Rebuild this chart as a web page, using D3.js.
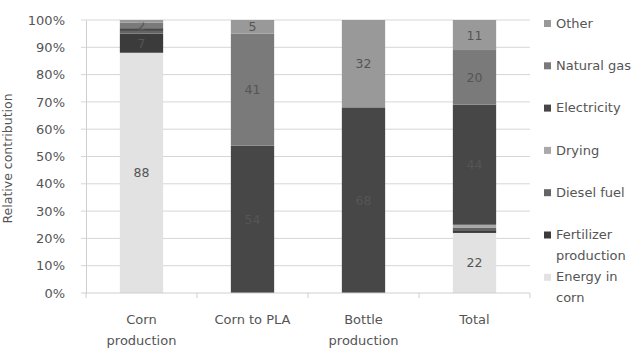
<!DOCTYPE html>
<html>
<head>
<meta charset="utf-8">
<script src="https://cdn.jsdelivr.net/npm/d3@7"></script>
<style>
  html, body { margin: 0; padding: 0; background: #fff; }
  svg { display: block; }
  text { font-family: "DejaVu Sans", sans-serif; fill: #555; }
</style>
</head>
<body>
<svg id="chart" width="643" height="352"></svg>
<script>
// Stages of the life cycle (x categories); "\n" splits a label over two lines
const categories = ["Corn\nproduction", "Corn to PLA", "Bottle\nproduction", "Total"];

// Energy sources, stacked bottom to top
const sources = ["Energy in corn", "Fertilizer production", "Diesel fuel", "Drying", "Electricity", "Natural gas", "Other"];

// Relative contribution (%) of each source per stage
const energyInCorn = [88, 0, 0, 22];
const fertilizer   = [7, 0, 0, 1];
const dieselFuel   = [1, 0, 0, 1];
const drying       = [0, 0, 0, 1];
const electricity  = [1, 54, 68, 44];
const naturalGas   = [2, 41, 0, 20];
const other        = [1, 5, 32, 11];

const yTicks = [0, 10, 20, 30, 40, 50, 60, 70, 80, 90, 100];

const colors = ["#e2e2e2", "#3b3b3b", "#646464", "#a9a9a9", "#474747", "#7a7a7a", "#999999"];
const seriesValues = [energyInCorn, fertilizer, dieselFuel, drying, electricity, naturalGas, other];

const rows = categories.map((c, i) => {
  const r = { category: c };
  sources.forEach((s, k) => { r[s] = seriesValues[k][i]; });
  return r;
});

const svg = d3.select("#chart");
const m = { left: 86, right: 530, top: 20, bottom: 293 };

const x = d3.scaleBand().domain(categories).range([m.left, m.right]).paddingInner(0.61).paddingOuter(0.305);
const y = d3.scaleLinear().domain([0, 100]).range([m.bottom, m.top]);

// gridlines
svg.append("g")
  .selectAll("line").data(yTicks.filter(d => d > 0)).join("line")
  .attr("x1", m.left - 5).attr("x2", m.right)
  .attr("y1", d => y(d)).attr("y2", d => y(d))
  .attr("stroke", "#d6d6d6").attr("stroke-width", 1);

// y axis
const yAxis = svg.append("g").attr("transform", `translate(${m.left},0)`)
  .call(d3.axisLeft(y).tickValues(yTicks).tickFormat(d => d + "%").tickSize(0).tickPadding(21));
yAxis.select(".domain").attr("stroke", "#cfcfcf");
yAxis.selectAll("text").style("font-size", "13px").attr("fill", "#555");

// y axis title
svg.append("text")
  .attr("transform", `translate(12,${(m.top + m.bottom) / 2 + 2}) rotate(-90)`)
  .attr("text-anchor", "middle")
  .style("font-size", "12.5px")
  .text("Relative contribution");

// stacked bars
const stacked = d3.stack().keys(sources)(rows);
const layers = svg.append("g").selectAll("g").data(stacked).join("g")
  .attr("fill", (d, i) => colors[i]);
layers.selectAll("rect").data(d => d).join("rect")
  .attr("x", d => x(d.data.category))
  .attr("width", x.bandwidth())
  .attr("y", d => y(d[1]))
  .attr("height", d => y(d[0]) - y(d[1]));

// value labels (segments of 2 % and more)
layers.selectAll("text").data(d => d.map(p => ({ p, v: p[1] - p[0] })).filter(o => o.v >= 2)).join("text")
  .attr("x", o => x(o.p.data.category) + x.bandwidth() / 2)
  .attr("y", o => y((o.p[0] + o.p[1]) / 2))
  .attr("dy", "0.36em")
  .attr("text-anchor", "middle")
  .style("font-size", "12.5px")
  .attr("fill", "#3a3a3a")
  .text(o => o.v);

// x axis baseline and tick marks at category boundaries
svg.append("line")
  .attr("x1", m.left - 5).attr("x2", m.right)
  .attr("y1", m.bottom).attr("y2", m.bottom)
  .attr("stroke", "#cfcfcf");
const step = x.step();
svg.append("g").selectAll("line").data(d3.range(categories.length + 1)).join("line")
  .attr("x1", i => m.left + i * step).attr("x2", i => m.left + i * step)
  .attr("y1", m.bottom).attr("y2", m.bottom + 5)
  .attr("stroke", "#cfcfcf");

// category labels
svg.append("g").selectAll("text").data(categories).join("text")
  .attr("x", d => x(d) + x.bandwidth() / 2)
  .attr("y", 324)
  .attr("text-anchor", "middle")
  .style("font-size", "13px")
  .each(function (d) {
    d.split("\n").forEach((line, i) => {
      d3.select(this).append("tspan")
        .attr("x", x(d) + x.bandwidth() / 2)
        .attr("dy", i === 0 ? 0 : 21)
        .text(line);
    });
  });

// legend, listed top to bottom in reverse stacking order
const legendItems = sources.map((s, i) => ({ name: s, color: colors[i] })).reverse();
const legendLines = { "Fertilizer production": ["Fertilizer", "production"], "Energy in corn": ["Energy in", "corn"] };
const legend = svg.append("g").selectAll("g").data(legendItems).join("g")
  .attr("transform", (d, i) => `translate(544,${23 + i * 42.3})`);
legend.append("rect").attr("x", 0).attr("y", -3).attr("width", 7).attr("height", 7)
  .attr("fill", d => d.color);
legend.append("text")
  .attr("x", 12).attr("y", 0)
  .style("font-size", "13px")
  .each(function (d) {
    const lines = legendLines[d.name] || [d.name];
    lines.forEach((line, i) => {
      d3.select(this).append("tspan").attr("x", 12).attr("dy", i === 0 ? "0.36em" : 21).text(line);
    });
  });
</script>
</body>
</html>
